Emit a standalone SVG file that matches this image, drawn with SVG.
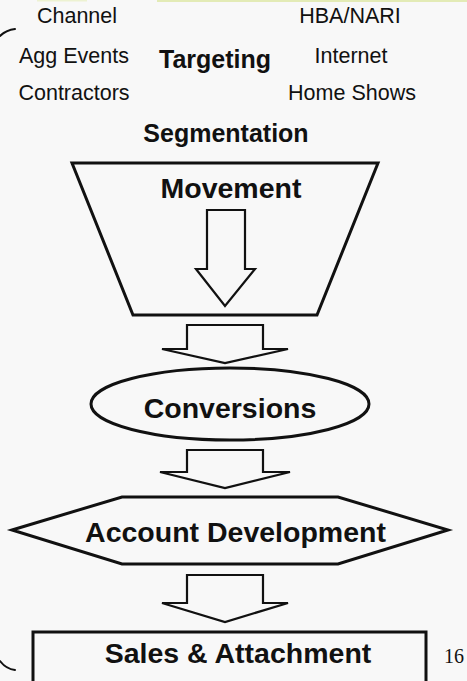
<svg xmlns="http://www.w3.org/2000/svg" width="467" height="681" viewBox="0 0 467 681">
  <style>
    .bg { fill: #f8f8f8; }
    .shape { fill: none; stroke: #111; stroke-width: 3; stroke-linejoin: miter; }
    .blk { fill: #f8f8f8; stroke: #111; stroke-width: 2.2; stroke-linejoin: miter; }
    .lbl { font-family: "Liberation Sans", Arial, sans-serif; font-size: 21.5px; fill: #111; text-anchor: middle; }
    .head { font-family: "Liberation Sans", Arial, sans-serif; font-weight: bold; fill: #111; text-anchor: middle; }
    .brace { fill: none; stroke: #111; stroke-width: 2; stroke-linecap: round; }
  </style>

  <rect class="bg" x="0" y="0" width="467" height="681"/>
  <!-- thin tinted strip along the top edge -->
  <rect x="157" y="0" width="310" height="2" fill="#e3ebb6"/>
  <rect x="37" y="0" width="50" height="1.5" fill="#edf2d2"/>

  <!-- brace ends on the left margin -->
  <path class="brace" d="M0,36 Q6,30 15,29"/>
  <path class="brace" d="M0,661 Q6,669 15,670"/>

  <!-- targeting sources -->
  <g id="sources">
    <text class="lbl" x="77" y="23">Channel</text>
    <text class="lbl" x="74" y="63">Agg Events</text>
    <text class="lbl" x="74" y="100">Contractors</text>
    <text class="lbl" x="350" y="23">HBA/NARI</text>
    <text class="lbl" x="351" y="63">Internet</text>
    <text class="lbl" x="352" y="100">Home Shows</text>
  </g>

  <g id="targeting">
    <text class="head" x="215" y="68" font-size="25">Targeting</text>
  </g>

  <g id="segmentation">
    <text class="head" x="226" y="142" font-size="25">Segmentation</text>
  </g>

  <g id="movement">
    <polygon class="shape" points="72,163 378,163 317,315 133,315"/>
    <text class="head" x="231" y="198" font-size="28.5">Movement</text>
  </g>

  <g id="conversions">
    <ellipse class="shape" cx="230" cy="404" rx="139" ry="36" stroke-width="2.6"/>
    <text class="head" x="230" y="418" font-size="28.5">Conversions</text>
  </g>

  <g id="account-development">
    <polygon class="shape" points="12,530 122,497 338,497 448,530 338,564 122,564"/>
    <text class="head" x="235.5" y="542" font-size="28.5">Account Development</text>
  </g>

  <g id="sales-attachment">
    <rect class="shape" x="33" y="632" width="393" height="60"/>
    <text class="head" x="238" y="663" font-size="28.5">Sales &amp; Attachment</text>
  </g>

  <!-- block arrows between the stages -->
  <g id="connectors">
    <polygon class="blk" points="207,210 245,210 245,269 255,269 225,306 196,269 207,269"/>
    <polygon class="blk" points="187,325 263,325 263,349 288,349 225,363 162,349 187,349"/>
    <polygon class="blk" points="187,450 263,450 263,472 290,472 225,488 160,472 187,472"/>
    <polygon class="blk" points="187,575 263,575 263,603 288,603 225,622 162,603 187,603"/>
  </g>

  <text x="454" y="663" font-family="Liberation Serif, 'Times New Roman', serif" font-size="20" fill="#111" text-anchor="middle">16</text>
</svg>
